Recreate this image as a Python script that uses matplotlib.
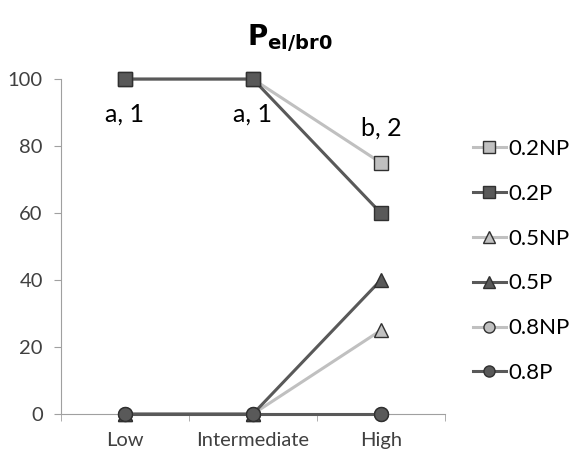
import matplotlib.pyplot as plt

plt.rcParams['font.family'] = ['Lato', 'DejaVu Sans']

categories = ["Low", "Intermediate", "High"]
series_names = ["0.2NP", "0.2P", "0.5NP", "0.5P", "0.8NP", "0.8P"]
values = {
    "0.2NP": [100, 100, 75],
    "0.2P": [100, 100, 60],
    "0.5NP": [0, 0, 25],
    "0.5P": [0, 0, 40],
    "0.8NP": [0, 0, 0],
    "0.8P": [0, 0, 0],
}
annotations = ["a, 1", "a, 1", "b, 2"]
yticks = [0, 20, 40, 60, 80, 100]

light = "#c0c0c0"
dark = "#595959"
styles = {
    "0.2NP": (light, "s"),
    "0.2P": (dark, "s"),
    "0.5NP": (light, "^"),
    "0.5P": (dark, "^"),
    "0.8NP": (light, "o"),
    "0.8P": (dark, "o"),
}

fig = plt.figure(figsize=(5.8, 4.57), dpi=100)
ax = fig.add_axes([0.105, 0.094, 0.662, 0.733])

x = list(range(len(categories)))
for name in series_names:
    color, marker = styles[name]
    ax.plot(x, values[name], color=color, marker=marker, markersize=10,
            markerfacecolor=color, markeredgecolor="#303030", markeredgewidth=1,
            lw=2.2, label=name, clip_on=False, zorder=3)

ax.set_xlim(-0.5, 2.5)
ax.set_ylim(0, 100)
ax.set_xticks(x)
ax.set_xticklabels(categories, fontsize=14.5)
ax.set_xticks([-0.5, 0.5, 1.5, 2.5], minor=True)
ax.tick_params(axis="x", which="major", length=0, pad=13, colors="#404040")
ax.tick_params(axis="x", which="minor", length=5, color="#a0a0a0")
ax.set_yticks(yticks)
ax.tick_params(axis="y", labelsize=14.5, length=5, colors="#404040", pad=8)
ax.tick_params(axis="y", color="#a0a0a0")
for s in ["top", "right"]:
    ax.spines[s].set_visible(False)
for s in ["left", "bottom"]:
    ax.spines[s].set_color("#a0a0a0")

ax.text(0, 93, annotations[0], ha="center", va="top", fontsize=18)
ax.text(1, 93, annotations[1], ha="center", va="top", fontsize=18)
ax.text(2, 82, annotations[2], ha="center", va="bottom", fontsize=18)

fig.text(0.5, 0.9, r"$\mathbf{P}_{\mathbf{el/br0}}$", ha="center", fontsize=20,
         math_fontfamily="dejavusans")

ax.legend(loc="center left", bbox_to_anchor=(1.02, 0.457), frameon=False,
          fontsize=16, handlelength=1.5, labelspacing=1.12, handletextpad=0.1,
          markerscale=0.8)

fig.savefig("out.png", dpi=100)
